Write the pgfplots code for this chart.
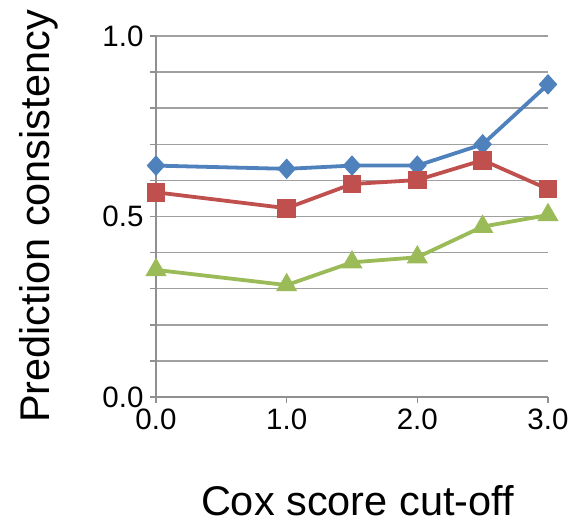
\documentclass[border=0pt]{standalone}
\usepackage{fontspec}
\setmainfont{Liberation Sans}
\usepackage{pgfplots}
\pgfplotsset{compat=1.18}
\definecolor{cblue}{HTML}{4F81BD}
\definecolor{cred}{HTML}{C0504D}
\definecolor{cgreen}{HTML}{9BBB59}
\definecolor{cgrid}{HTML}{A0A0A0}
\definecolor{caxis}{HTML}{909090}
\begin{document}
\begin{tikzpicture}
\path[use as bounding box] (-156pt,-131pt) rectangle (423pt,397pt);
\begin{axis}[
  scale only axis, width=392pt, height=361pt,
  at={(0,0)}, anchor=south west,
  xmin=0, xmax=3, ymin=0, ymax=1,
  axis lines*=left,
  axis line style={caxis, line width=1.4pt},
  xtick={0,1,2,3},
  ytick={0,0.5,1},
  minor ytick={0.1,0.2,0.3,0.4,0.6,0.7,0.8,0.9},
  ymajorgrids, yminorgrids,
  grid style={cgrid, line width=1.5pt},
  major grid style={cgrid, line width=1.5pt},
  minor grid style={cgrid, line width=1.5pt},
  tick align=outside,
  major tick length=6pt, minor tick length=6pt,
  tick style={caxis, line width=1.4pt},
  /pgf/number format/assume math mode=true,
  /pgf/number format/.cd, fixed, fixed zerofill, precision=1, /pgfplots/.cd,
  tick label style={font=\fontsize{29.5}{30}\selectfont},
  xticklabel style={yshift=-2pt},
  yticklabel style={xshift=-3pt},
  xlabel={Cox score cut-off},
  ylabel={Prediction consistency},
  label style={font=\fontsize{41.5}{42}\selectfont},
  xlabel style={at={(axis description cs:0.514,-0.327)}, anchor=base},
  ylabel style={at={(axis description cs:-0.272,0.5)}, anchor=base, rotate=0},
  clip=false,
]
\addplot[cblue, line width=3.8pt, mark=diamond*, mark size=7.5pt, mark options={solid, xscale=1.2}]
  coordinates {(0,0.641) (1,0.632) (1.5,0.641) (2,0.641) (2.5,0.700) (3,0.866)};
\addplot[cred, line width=3.8pt, mark=square*, mark size=7.5pt, mark options={solid}]
  coordinates {(0,0.567) (1,0.523) (1.5,0.590) (2,0.601) (2.5,0.656) (3,0.576)};
\addplot[cgreen, line width=3.8pt, mark=triangle*, mark size=8.5pt, mark options={solid}]
  coordinates {(0,0.352) (1,0.310) (1.5,0.373) (2,0.387) (2.5,0.472) (3,0.504)};
\end{axis}
\end{tikzpicture}
\end{document}
